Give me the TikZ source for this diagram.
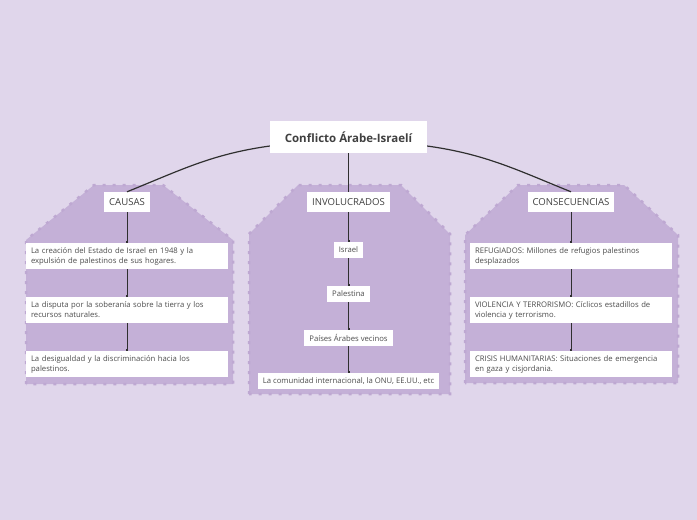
\documentclass[tikz,border=0pt]{standalone}
\usepackage{fontspec}
\setmainfont{Open Sans}
\usetikzlibrary{arrows.meta}
\definecolor{mybg}{HTML}{E0D6EB}
\definecolor{mypanel}{HTML}{C4B0D7}
\definecolor{mypaneldark}{HTML}{BEA8D2}
\definecolor{mytext}{HTML}{4D4D4D}
\definecolor{myline}{HTML}{2F2F2F}

\begin{document}
\begin{tikzpicture}[x=1pt, y=-1pt,
      every node/.style={font=\fontsize{7.7}{10}\selectfont, text=mytext},
      root/.style={fill=white, minimum width=157pt, minimum height=32pt,
                   text=black!75, font=\fontsize{11.5}{13}\selectfont\bfseries},
      cat/.style={fill=white, minimum height=20pt, inner xsep=5pt,
                  text=black!75, font=\fontsize{9.6}{11}\selectfont},
      item/.style={fill=white, text width=192pt, minimum height=26pt,
                   inner xsep=5pt, align=left},
      tag/.style={fill=white, minimum height=16pt, inner xsep=5pt},
      panel/.style={fill=mypanel, draw=mypaneldark, line width=2.5pt,
                    dash pattern=on 3pt off 7pt},
      link/.style={myline, line width=1.2pt},
      sub/.style={myline, line width=0.8pt, -{Square[length=1.5pt, width=1.5pt]}}
    ]
    \useasboundingbox[fill=mybg] (0,0) rectangle (697,520);

    % panels
    \draw[panel] (26,384) -- (26,240) -- (94,185) -- (163,185) -- (233,240) -- (233,384) -- cycle;
    \draw[panel] (249,394) -- (249,234) -- (298,185) -- (401,185) -- (450,234) -- (450,394) -- cycle;
    \draw[panel] (465,383) -- (465,235) -- (518,185) -- (624,185) -- (678,235) -- (678,383) -- cycle;

    \node[root] (root) at (348.5,137) {Conflicto Árabe-Israelí};

    \node[cat] (causas) at (127,202)   {CAUSAS};
    \node[cat] (inv)    at (348.5,202) {INVOLUCRADOS};
    \node[cat] (cons)   at (571,202)   {CONSECUENCIAS};

    \node[item] (c1) at (127,256) {La creación del Estado de Israel en 1948 y la\\expulsión de palestinos de sus hogares.};
    \node[item] (c2) at (127,310) {La disputa por la soberanía sobre la tierra y los\\recursos naturales.};
    \node[item] (c3) at (127,364) {La desigualdad y la discriminación hacia los\\palestinos.};

    \node[tag] (i1) at (348.5,250) {Israel};
    \node[tag] (i2) at (348.5,294) {Palestina};
    \node[tag] (i3) at (348.5,338) {Países Árabes vecinos};
    \node[tag] (i4) at (348.5,381) {La comunidad internacional, la ONU, EE.UU., etc};

    \node[item] (k1) at (571,256) {REFUGIADOS: Millones de refugios palestinos\\desplazados};
    \node[item] (k2) at (571,310) {VIOLENCIA Y TERRORISMO: Cíclicos estadillos de\\violencia y terrorismo.};
    \node[item] (k3) at (571,364) {CRISIS HUMANITARIAS: Situaciones de emergencia\\en gaza y cisjordania.};

    \draw[link] ([yshift=-9pt]root.west) to[out=188, in=22] (causas.north);
    \draw[link] (root) -- (inv);
    \draw[link] ([yshift=-9pt]root.east) to[out=-8, in=158] (cons.north);

    \draw[sub] (causas) -- (c1);  \draw[sub] (c1) -- (c2);  \draw[sub] (c2) -- (c3);
    \draw[sub] (inv) -- (i1);     \draw[sub] (i1) -- (i2);  \draw[sub] (i2) -- (i3);
    \draw[sub] (i3) -- (i4);
    \draw[sub] (cons) -- (k1);    \draw[sub] (k1) -- (k2);  \draw[sub] (k2) -- (k3);
  \end{tikzpicture}
\end{document}
